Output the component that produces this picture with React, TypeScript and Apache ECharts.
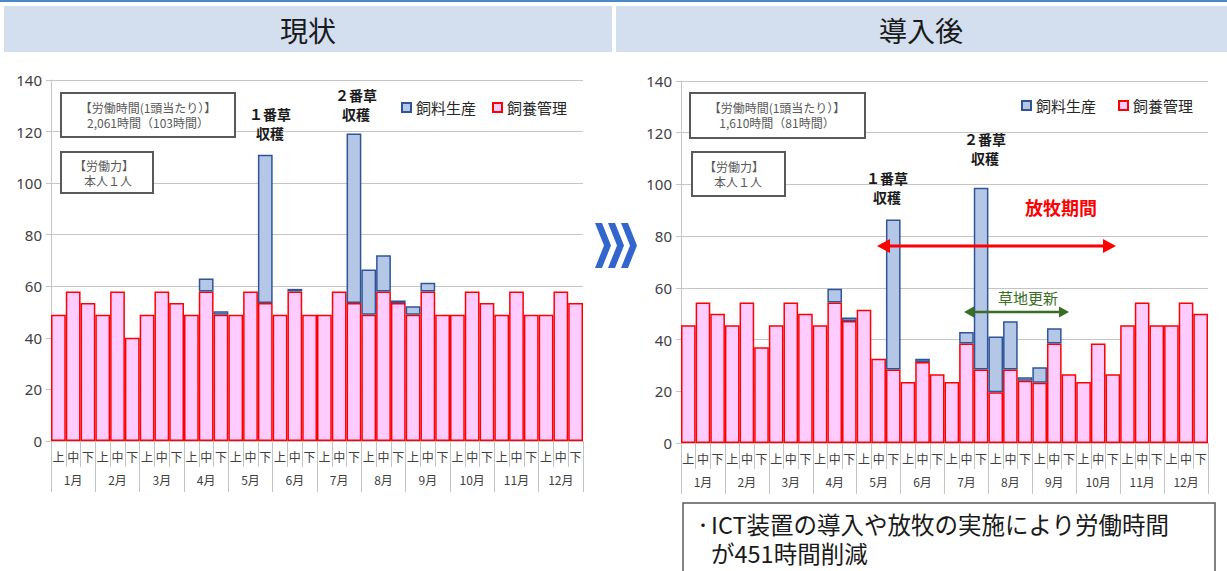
import React, { useEffect, useRef } from "react";
import * as echarts from "echarts";

const subLabels = ["上", "中", "下"];
const months = ["1月", "2月", "3月", "4月", "5月", "6月", "7月", "8月", "9月", "10月", "11月", "12月"];
const categories = months.flatMap((m) => subLabels.map((s) => m + s));
const yTicks = [0, 20, 40, 60, 80, 100, 120, 140];

// 現状
const beforeManagement = [
  49, 58, 53.5, 49, 58, 40, 49, 58, 53.5, 49, 58, 49,
  49, 58, 53.5, 49, 58, 49, 49, 58, 53.5, 49, 58, 53.5,
  49, 58, 49, 49, 58, 53.5, 49, 58, 49, 49, 58, 53.5,
];
const beforeFeed = [
  null, null, null, null, null, null, null, null, null, null, 5, 1.3,
  null, null, 57.5, null, 1, null, null, null, 65.8, 17.5, 14, 1,
  3.3, 3.4, null, null, null, null, null, null, null, null, null, null,
];
// 導入後
const afterManagement = [
  45.5, 54.3, 50, 45.5, 54.3, 37, 45.5, 54.3, 50, 45.5, 54.3, 47.2,
  51.5, 32.6, 28.4, 23.6, 31.3, 26.6, 23.6, 38.5, 28.4, 19.6, 28.4, 24.1,
  23.3, 38.5, 26.6, 23.6, 38.5, 26.6, 45.5, 54.3, 45.5, 45.5, 54.3, 50,
];
const afterFeed = [
  null, null, null, null, null, null, null, null, null, null, 5.4, 1.3,
  null, null, 58, null, 1.3, null, null, 4.4, 70.3, 21.6, 18.7, 1.3,
  6, 5.9, null, null, null, null, null, null, null, null, null, null,
];

const FONT = "'Noto Sans CJK JP', 'Noto Sans', sans-serif";
const GRID_COLOR = "#c4c4c4";

function textEl(x: number, y: number, text: string, opts: any = {}) {
  return {
    type: "text",
    x,
    y,
    z: 100,
    style: {
      text,
      fill: opts.fill || "#1a1a1a",
      fontSize: opts.fontSize || 12,
      fontWeight: opts.fontWeight || "normal",
      fontFamily: FONT,
      align: opts.align || "left",
      textAlign: opts.align || "left",
      verticalAlign: opts.verticalAlign || "middle",
      textVerticalAlign: opts.verticalAlign || "middle",
      lineHeight: opts.lineHeight,
    },
  };
}

function boxEl(x: number, y: number, w: number, h: number, lw = 2) {
  return {
    type: "rect",
    z: 99,
    shape: { x, y, width: w, height: h },
    style: { fill: "#ffffff", stroke: "#595959", lineWidth: lw },
  };
}

function arrowEls(x1: number, x2: number, y: number, color: string, lw: number, hw: number, hh: number) {
  return [
    { type: "line", z: 100, shape: { x1: x1 + hw - 1, y1: y, x2: x2 - hw + 1, y2: y }, style: { stroke: color, lineWidth: lw } },
    { type: "polygon", z: 100, shape: { points: [[x1, y], [x1 + hw, y - hh], [x1 + hw, y + hh]] }, style: { fill: color } },
    { type: "polygon", z: 100, shape: { points: [[x2, y], [x2 - hw, y - hh], [x2 - hw, y + hh]] }, style: { fill: color } },
  ];
}

function chevron(x: number) {
  return {
    type: "polygon",
    z: 100,
    shape: {
      points: [[x, 223], [x + 7, 223], [x + 16, 245.5], [x + 7, 268], [x, 268], [x + 9, 245.5]],
    },
    style: { fill: "#3366cc" },
  };
}

function xAxes(gridIndex: number) {
  return [
    {
      gridIndex,
      type: "category",
      position: "bottom",
      data: categories,
      axisLine: { show: true, lineStyle: { color: GRID_COLOR } },
      axisTick: { show: true, interval: 0, length: 26, lineStyle: { color: GRID_COLOR } },
      axisLabel: {
        interval: 0,
        formatter: (v: string) => v.slice(-1),
        margin: 9,
        fontSize: 12,
        color: "#404040",
        fontFamily: FONT,
      },
    },
    {
      gridIndex,
      type: "category",
      position: "bottom",
      data: months,
      axisLine: { show: false },
      axisTick: { show: true, interval: 0, length: 51, lineStyle: { color: GRID_COLOR } },
      axisLabel: { interval: 0, margin: 32, fontSize: 12, color: "#404040", fontFamily: FONT },
    },
  ];
}

function yAxis(gridIndex: number) {
  return {
    gridIndex,
    type: "value",
    min: yTicks[0],
    max: yTicks[yTicks.length - 1],
    interval: yTicks[1] - yTicks[0],
    axisLine: { show: true, lineStyle: { color: GRID_COLOR } },
    axisTick: { show: true, length: 5, lineStyle: { color: GRID_COLOR } },
    axisLabel: { fontSize: 15, color: "#404040", margin: 9, fontFamily: "'Noto Sans', sans-serif" },
    splitLine: { show: true, lineStyle: { color: GRID_COLOR, width: 1 } },
  };
}

const mgmtStyle = { color: "#ffccff", borderColor: "#ff0000", borderWidth: 1.5 };
const feedStyle = { color: "#b4c7e7", borderColor: "#2f5597", borderWidth: 1.5 };

export default function App() {
  const ref = useRef<HTMLDivElement>(null);
  useEffect(() => {
    if (!ref.current) return;
    const chart = echarts.init(ref.current, undefined, { renderer: "svg" });
    const legendBase = {
      data: ["飼料生産", "飼養管理"],
      icon: "rect",
      itemWidth: 9,
      itemHeight: 9,
      selectedMode: false,
      textStyle: { fontSize: 15, color: "#262626", fontFamily: FONT },
    };
    const option: any = {
      animation: false,
      backgroundColor: "#ffffff",
      textStyle: { fontFamily: FONT },
      grid: [
        { left: 51, right: 1227 - 583, top: 80, bottom: 571 - 441, containLabel: false },
        { left: 681, right: 1227 - 1208, top: 81, bottom: 571 - 443, containLabel: false },
      ],
      legend: [
        { ...legendBase, left: 396, top: 95, itemGap: 16 },
        { ...legendBase, left: 1016, top: 93, itemGap: 22 },
      ],
      xAxis: [...xAxes(0), ...xAxes(1)],
      yAxis: [yAxis(0), yAxis(1)],
      series: [
        { name: "飼養管理", type: "bar", stack: "a", xAxisIndex: 0, yAxisIndex: 0, data: beforeManagement, itemStyle: mgmtStyle, barCategoryGap: "0%" },
        { name: "飼料生産", type: "bar", stack: "a", xAxisIndex: 0, yAxisIndex: 0, data: beforeFeed, itemStyle: feedStyle, barCategoryGap: "0%", z: 3 },
        { name: "飼養管理", type: "bar", stack: "b", xAxisIndex: 2, yAxisIndex: 1, data: afterManagement, itemStyle: mgmtStyle, barCategoryGap: "0%" },
        { name: "飼料生産", type: "bar", stack: "b", xAxisIndex: 2, yAxisIndex: 1, data: afterFeed, itemStyle: feedStyle, barCategoryGap: "0%", z: 3 },
      ],
      graphic: [
        // header
        { type: "rect", z: 100, shape: { x: 0, y: 0, width: 1227, height: 2 }, style: { fill: "#4a8ac9" } },
        { type: "rect", z: 99, shape: { x: 4, y: 6, width: 608, height: 46 }, style: { fill: "#d3deef" } },
        { type: "rect", z: 99, shape: { x: 616, y: 6, width: 611, height: 46 }, style: { fill: "#d3deef" } },
        textEl(308, 30, "現状", { fontSize: 28, align: "center" }),
        textEl(921, 30, "導入後", { fontSize: 28, align: "center" }),
        // left boxes
        boxEl(61, 93, 174, 44),
        textEl(148, 107, "【労働時間(1頭当たり）】", { fontSize: 12, fill: "#595959", align: "center" }),
        textEl(148, 122, "2,061時間（103時間）", { fontSize: 12, fill: "#595959", align: "center" }),
        boxEl(61, 152, 92, 41),
        textEl(74, 165, "【労働力】", { fontSize: 12, fill: "#595959" }),
        textEl(84, 180, "本人１人", { fontSize: 12, fill: "#595959" }),
        textEl(270, 104, "１番草\n収穫", { fontSize: 14, fontWeight: "bold", align: "center", verticalAlign: "top", lineHeight: 19 }),
        textEl(356, 85, "２番草\n収穫", { fontSize: 14, fontWeight: "bold", align: "center", verticalAlign: "top", lineHeight: 19 }),
        // chevrons
        chevron(595),
        chevron(608),
        chevron(621),
        // right boxes
        boxEl(690, 93, 175, 45),
        textEl(777, 107, "【労働時間(1頭当たり）】", { fontSize: 12, fill: "#595959", align: "center" }),
        textEl(777, 122, "1,610時間（81時間）", { fontSize: 12, fill: "#595959", align: "center" }),
        boxEl(692, 152, 93, 44),
        textEl(704, 166, "【労働力】", { fontSize: 12, fill: "#595959" }),
        textEl(714, 181, "本人１人", { fontSize: 12, fill: "#595959" }),
        textEl(887, 168, "１番草\n収穫", { fontSize: 14, fontWeight: "bold", align: "center", verticalAlign: "top", lineHeight: 19 }),
        textEl(985, 129, "２番草\n収穫", { fontSize: 14, fontWeight: "bold", align: "center", verticalAlign: "top", lineHeight: 19 }),
        textEl(1061, 207, "放牧期間", { fontSize: 18, fontWeight: "bold", fill: "#ff0000", align: "center" }),
        ...arrowEls(877, 1116, 246, "#ff0000", 3, 13, 7),
        textEl(1028, 297, "草地更新", { fontSize: 15, fill: "#3b6e22", align: "center" }),
        ...arrowEls(964, 1069, 312, "#3b6e22", 2.5, 10, 5.5),
        // bottom note
        boxEl(683, 503, 532, 90, 1.5),
        textEl(703, 524, "・", { fontSize: 16, fill: "#1a1a1a", align: "center" }),
        textEl(711, 524, "ICT装置の導入や放牧の実施により労働時間", { fontSize: 23.5, fill: "#1a1a1a" }),
        textEl(711, 553, "が451時間削減", { fontSize: 23.5, fill: "#1a1a1a" }),
      ],
    };
    chart.setOption(option);
    return () => chart.dispose();
  }, []);
  return (
    <div
      ref={ref}
      style={{ position: "fixed", left: 0, top: 0, width: 1227, height: 571, background: "#ffffff" }}
    />
  );
}
